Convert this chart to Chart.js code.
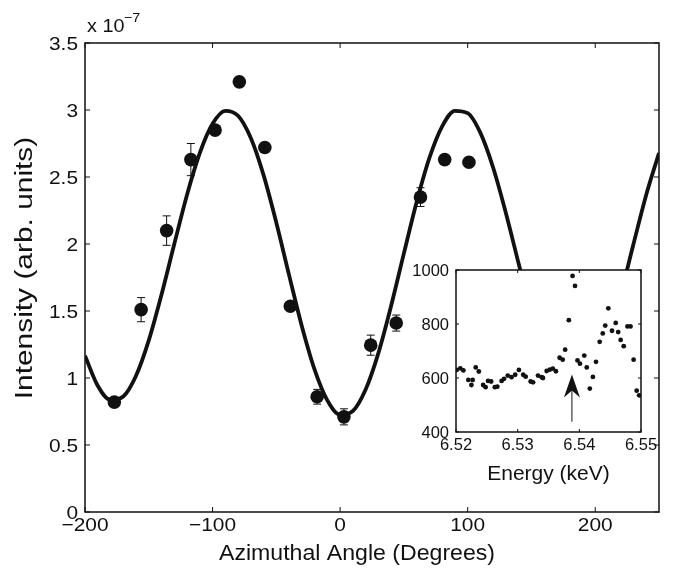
<!DOCTYPE html>
<html>
<head>
<meta charset="utf-8">
<script src="https://cdn.jsdelivr.net/npm/chart.js@4.4.1/dist/chart.umd.min.js"></script>
<style>
  body { margin: 0; background: #fff; }
  #wrap { position: relative; width: 675px; height: 574px; }
  #main { position: absolute; left: 0; top: 0; }
  #inset { position: absolute; left: 400px; top: 255px; }
</style>
</head>
<body>
<div id="wrap">
  <canvas id="main" width="675" height="574"></canvas>
  <canvas id="inset" width="260" height="235"></canvas>
</div>
<script>
// fitted curve, every 10 degrees (units of 1e-7)
const curveAngle = [-200,-190,-180,-170,-160,-150,-140,-130,-120,-110,-100,-90,-80,-70,-60,-50,-40,-30,-20,-10,
  0,10,20,30,40,50,60,70,80,90,100,110,120,130,140,150,160,170,180,190,200,210,220,230,240,250];
const curveIntensity = [1.166,0.942,0.836,0.862,1.017,1.281,1.623,2.000,2.368,2.679,2.897,2.994,2.957,2.791,2.514,2.159,1.768,1.387,1.063,0.833,
  0.726,0.754,0.914,1.186,1.539,1.930,2.313,2.642,2.878,2.994,2.977,2.829,2.569,2.230,1.852,1.483,1.166,0.942,0.836,0.862,1.017,1.281,1.623,2.000,2.368,2.679];

// measured points
const angle = [-177,-156,-136,-117,-98,-79,-59,-39,-18,3,24,44,63,82,101];
const intensity = [0.82,1.51,2.10,2.63,2.85,3.21,2.72,1.535,0.86,0.71,1.245,1.41,2.35,2.63,2.61];
const intensityErr = [0.03,0.09,0.11,0.12,0.03,0.03,0.03,0.03,0.055,0.06,0.075,0.06,0.07,0.03,0.03];

const angleTicks = [-200,-100,0,100,200];
const intensityTicks = [0,0.5,1,1.5,2,2.5,3,3.5];

// inset spectrum
const energy = [6.5201,6.5207,6.5212,6.5220,6.5225,6.5227,6.5232,6.5237,6.5244,6.5248,6.5252,6.5257,6.5263,6.5267,
  6.5274,6.5278,6.5284,6.5290,6.5296,6.5302,6.5309,6.5313,6.5321,6.5325,6.5333,6.5339,6.5341,6.5347,6.5352,6.5357,
  6.5362,6.5368,6.5373,6.5377,6.5383,6.5389,6.5393,6.5397,6.5401,6.5408,6.5412,6.5417,6.5422,6.5427,6.5433,6.5438,
  6.5442,6.5447,6.5453,6.5459,6.5463,6.5467,6.5472,6.5478,6.5483,6.5488,6.5493,6.5497];
const counts = [630,636,628,593,574,593,639,624,574,566,589,587,566,568,
  589,597,609,603,612,630,612,605,587,584,609,603,600,626,631,635,
  625,675,668,705,814,978,941,665,653,683,639,561,604,660,734,765,
  794,858,775,804,770,741,718,791,791,668,553,536];
const energyTicks = [6.52,6.53,6.54,6.55];
const countTicks = [400,600,800,1000];
const arrowEnergy = 6.5388, arrowFrom = 438, arrowTo = 613;

Chart.defaults.font.family = "'Liberation Sans', Arial, sans-serif";
Chart.defaults.color = '#111';
const INK = '#111';

function txt(ctx, s, x, y, size, align, sx) {
  ctx.save();
  ctx.translate(x, y);
  ctx.scale(sx || 1, 1);
  ctx.font = size + "px 'Liberation Sans', Arial, sans-serif";
  ctx.fillStyle = INK;
  ctx.textAlign = align;
  ctx.textBaseline = 'alphabetic';
  ctx.fillText(s, 0, 0);
  ctx.restore();
}
function fmtAngle(v) { return v < 0 ? '\u2212' + Math.abs(v) : String(v); }

// box, inward ticks on all four sides
function drawFrame(ctx, a, xs, ys, tickLen) {
  ctx.save();
  ctx.strokeStyle = INK;
  ctx.lineWidth = 1.5;
  ctx.strokeRect(a.left, a.top, a.right - a.left, a.bottom - a.top);
  ctx.lineWidth = 1;
  ctx.beginPath();
  xs.ticks.forEach(t => {
    const x = xs.getPixelForValue(t.value);
    ctx.moveTo(x, a.bottom); ctx.lineTo(x, a.bottom - tickLen);
    ctx.moveTo(x, a.top); ctx.lineTo(x, a.top + tickLen);
  });
  ys.ticks.forEach(t => {
    const y = ys.getPixelForValue(t.value);
    ctx.moveTo(a.left, y); ctx.lineTo(a.left + tickLen, y);
    ctx.moveTo(a.right, y); ctx.lineTo(a.right - tickLen, y);
  });
  ctx.stroke();
  ctx.restore();
}

const mainDecor = {
  id: 'mainDecor',
  afterDatasetsDraw(chart) {
    const ctx = chart.ctx, xs = chart.scales.x, ys = chart.scales.y;
    ctx.save();
    ctx.strokeStyle = INK;
    ctx.lineWidth = 1;
    ctx.beginPath();
    angle.forEach((a, i) => {
      const x = xs.getPixelForValue(a);
      const y1 = ys.getPixelForValue(intensity[i] - intensityErr[i]);
      const y2 = ys.getPixelForValue(intensity[i] + intensityErr[i]);
      ctx.moveTo(x, y1); ctx.lineTo(x, y2);
      ctx.moveTo(x - 4, y1); ctx.lineTo(x + 4, y1);
      ctx.moveTo(x - 4, y2); ctx.lineTo(x + 4, y2);
    });
    ctx.stroke();
    ctx.restore();
  },
  afterDraw(chart) {
    const ctx = chart.ctx, a = chart.chartArea, xs = chart.scales.x, ys = chart.scales.y;
    drawFrame(ctx, a, xs, ys, 5);
    xs.ticks.forEach(t => txt(ctx, fmtAngle(t.value), xs.getPixelForValue(t.value), a.bottom + 19, 19, 'center', 1.1));
    ys.ticks.forEach(t => txt(ctx, String(t.value), a.left - 7, ys.getPixelForValue(t.value) + 7, 19, 'right', 1.1));
    txt(ctx, 'Azimuthal Angle (Degrees)', 357, 560, 22, 'center', 1.05);
    ctx.save();
    ctx.translate(32, 268);
    ctx.rotate(-Math.PI / 2);
    txt(ctx, 'Intensity (arb. units)', 0, 0, 23, 'center', 1.3);
    ctx.restore();
    txt(ctx, 'x 10', 87, 32, 18, 'left', 1.1);
    txt(ctx, '\u22127', 124, 22, 13, 'left', 1.1);
  }
};

new Chart(document.getElementById('main'), {
  type: 'scatter',
  data: {
    datasets: [{
      data: curveAngle.map((x, i) => ({ x: x, y: curveIntensity[i] })),
      showLine: true,
      borderColor: INK,
      borderWidth: 3.8,
      pointRadius: 0,
      cubicInterpolationMode: 'monotone'
    }, {
      data: angle.map((x, i) => ({ x: x, y: intensity[i] })),
      backgroundColor: INK,
      borderColor: INK,
      pointRadius: 6.8,
      borderWidth: 0
    }]
  },
  options: {
    responsive: false,
    animation: false,
    devicePixelRatio: 1,
    layout: { padding: { left: 0, top: 43, right: 16, bottom: 0 } },
    plugins: { legend: { display: false }, tooltip: { enabled: false } },
    scales: {
      x: {
        type: 'linear', min: -200, max: 250,
        afterBuildTicks: s => { s.ticks = angleTicks.map(v => ({ value: v })); },
        afterFit: s => { s.height = 62; },
        ticks: { display: false },
        grid: { display: false },
        border: { display: false }
      },
      y: {
        type: 'linear', min: 0, max: 3.5,
        afterBuildTicks: s => { s.ticks = intensityTicks.map(v => ({ value: v })); },
        afterFit: s => { s.width = 85; },
        ticks: { display: false },
        grid: { display: false },
        border: { display: false }
      }
    }
  },
  plugins: [mainDecor]
});

const insetDecor = {
  id: 'insetDecor',
  beforeDatasetsDraw(chart) {
    const ctx = chart.ctx, a = chart.chartArea;
    ctx.save();
    ctx.fillStyle = '#fff';
    ctx.fillRect(a.left, a.top, a.right - a.left, a.bottom - a.top);
    ctx.restore();
  },
  afterDraw(chart) {
    const ctx = chart.ctx, a = chart.chartArea, xs = chart.scales.x, ys = chart.scales.y;
    drawFrame(ctx, a, xs, ys, 3);
    xs.ticks.forEach(t => txt(ctx, t.value.toFixed(2), xs.getPixelForValue(t.value), a.bottom + 18, 16.5, 'center', 1));
    ys.ticks.forEach(t => txt(ctx, String(t.value), a.left - 7, ys.getPixelForValue(t.value) + 6, 16.5, 'right', 1));
    txt(ctx, 'Energy (keV)', (a.left + a.right) / 2, a.bottom + 48, 20, 'center', 1.05);
    // arrow marking the pre-edge feature
    const x = xs.getPixelForValue(arrowEnergy);
    const yTail = ys.getPixelForValue(arrowFrom);
    const yTip = ys.getPixelForValue(arrowTo);
    ctx.save();
    ctx.strokeStyle = INK;
    ctx.fillStyle = INK;
    ctx.lineWidth = 1;
    ctx.beginPath();
    ctx.moveTo(x, yTail); ctx.lineTo(x, yTip + 15);
    ctx.stroke();
    ctx.beginPath();
    ctx.moveTo(x, yTip);
    ctx.lineTo(x - 8, yTip + 23);
    ctx.lineTo(x, yTip + 16);
    ctx.lineTo(x + 8, yTip + 23);
    ctx.closePath();
    ctx.fill();
    ctx.restore();
  }
};

new Chart(document.getElementById('inset'), {
  type: 'scatter',
  data: {
    datasets: [{
      data: energy.map((x, i) => ({ x: x, y: counts[i] })),
      backgroundColor: INK,
      borderColor: INK,
      pointRadius: 2.4,
      borderWidth: 0
    }]
  },
  options: {
    responsive: false,
    animation: false,
    devicePixelRatio: 1,
    layout: { padding: { left: 0, top: 15, right: 19, bottom: 0 } },
    plugins: { legend: { display: false }, tooltip: { enabled: false } },
    scales: {
      x: {
        type: 'linear', min: 6.52, max: 6.55,
        afterBuildTicks: s => { s.ticks = energyTicks.map(v => ({ value: v })); },
        afterFit: s => { s.height = 58; },
        ticks: { display: false },
        grid: { display: false },
        border: { display: false }
      },
      y: {
        type: 'linear', min: 400, max: 1000,
        afterBuildTicks: s => { s.ticks = countTicks.map(v => ({ value: v })); },
        afterFit: s => { s.width = 56; },
        ticks: { display: false },
        grid: { display: false },
        border: { display: false }
      }
    }
  },
  plugins: [insetDecor]
});
</script>
</body>
</html>
